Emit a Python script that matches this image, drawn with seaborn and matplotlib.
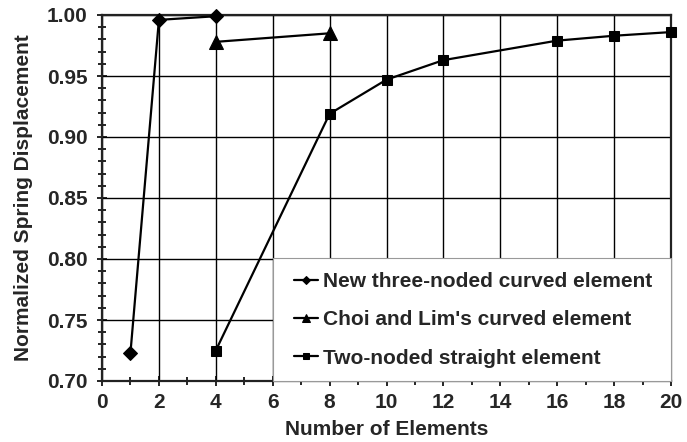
import matplotlib
matplotlib.use("Agg")
import matplotlib.pyplot as plt
import seaborn as sns
import pandas as pd
from matplotlib.ticker import MultipleLocator, FormatStrFormatter
from matplotlib.patches import Rectangle

sns.set_style("white")
plt.rcParams['font.family'] = ['Liberation Sans', 'DejaVu Sans']
plt.rcParams['font.weight'] = 'bold'

new_x = [1, 2, 4]
new_y = [0.723, 0.996, 0.999]
choi_x = [4, 8]
choi_y = [0.978, 0.985]
two_x = [4, 8, 10, 12, 16, 18, 20]
two_y = [0.725, 0.919, 0.947, 0.963, 0.979, 0.983, 0.986]

names = ["New three-noded curved element", "Choi and Lim's curved element", "Two-noded straight element"]

df = pd.concat([
    pd.DataFrame({"x": new_x, "y": new_y, "s": names[0]}),
    pd.DataFrame({"x": choi_x, "y": choi_y, "s": names[1]}),
    pd.DataFrame({"x": two_x, "y": two_y, "s": names[2]}),
])

fig = plt.figure(figsize=(6.87, 4.42), dpi=100)
ax = fig.add_axes([102/687, 61/442, 569/687, 366/442])

markers = {names[0]: "D", names[1]: "^", names[2]: "s"}
sizes = {names[0]: 7.5, names[1]: 10, names[2]: 7}
for n in names:
    sub = df[df.s == n]
    sns.lineplot(data=sub, x="x", y="y", ax=ax, color="black", lw=1.6,
                 marker=markers[n], markersize=sizes[n], markeredgecolor="black",
                 markerfacecolor="black", label=n, zorder=3, clip_on=False)

ax.set_xlim(0, 20)
ax.set_ylim(0.70, 1.00)
ax.xaxis.set_major_locator(MultipleLocator(2))
ax.xaxis.set_minor_locator(MultipleLocator(1))
ax.yaxis.set_major_locator(MultipleLocator(0.05))
ax.yaxis.set_minor_locator(MultipleLocator(0.01))
ax.yaxis.set_major_formatter(FormatStrFormatter("%.2f"))
ax.grid(True, which="major", color="black", lw=1.0)
ax.tick_params(which="both", bottom=True, left=True, direction="inout", color="black", width=1.2)
ax.tick_params(which="major", length=7, labelsize=15)
ax.tick_params(axis="x", which="major", pad=5)
ax.tick_params(axis="y", which="major", pad=7)
ax.tick_params(which="minor", length=6)
for sp in ax.spines.values():
    sp.set_color("#222222")
    sp.set_linewidth(1.6)
for lab in ax.get_xticklabels() + ax.get_yticklabels():
    lab.set_fontweight("bold")

ax.set_xlabel("Number of Elements", fontsize=15, fontweight="bold", labelpad=6)
ax.set_ylabel("Normalized Spring Displacement", fontsize=15, fontweight="bold", labelpad=10)

# legend box (white, thin gray border) in axes coordinates
box = Rectangle((0.3005, 0.0), 0.6995, 0.336, transform=ax.transAxes,
                facecolor="white", edgecolor="#999999", lw=0.8, zorder=4, clip_on=False)
ax.add_patch(box)

leg = ax.legend(loc="upper left", bbox_to_anchor=(0.3374, 0.298),
                frameon=False, borderaxespad=0, borderpad=0,
                handlelength=1.15, handletextpad=0.25, labelspacing=0.93,
                markerscale=0.6, prop={"size": 15, "weight": "bold"})
leg.set_zorder(5)

fig.savefig("out.png", dpi=100)
